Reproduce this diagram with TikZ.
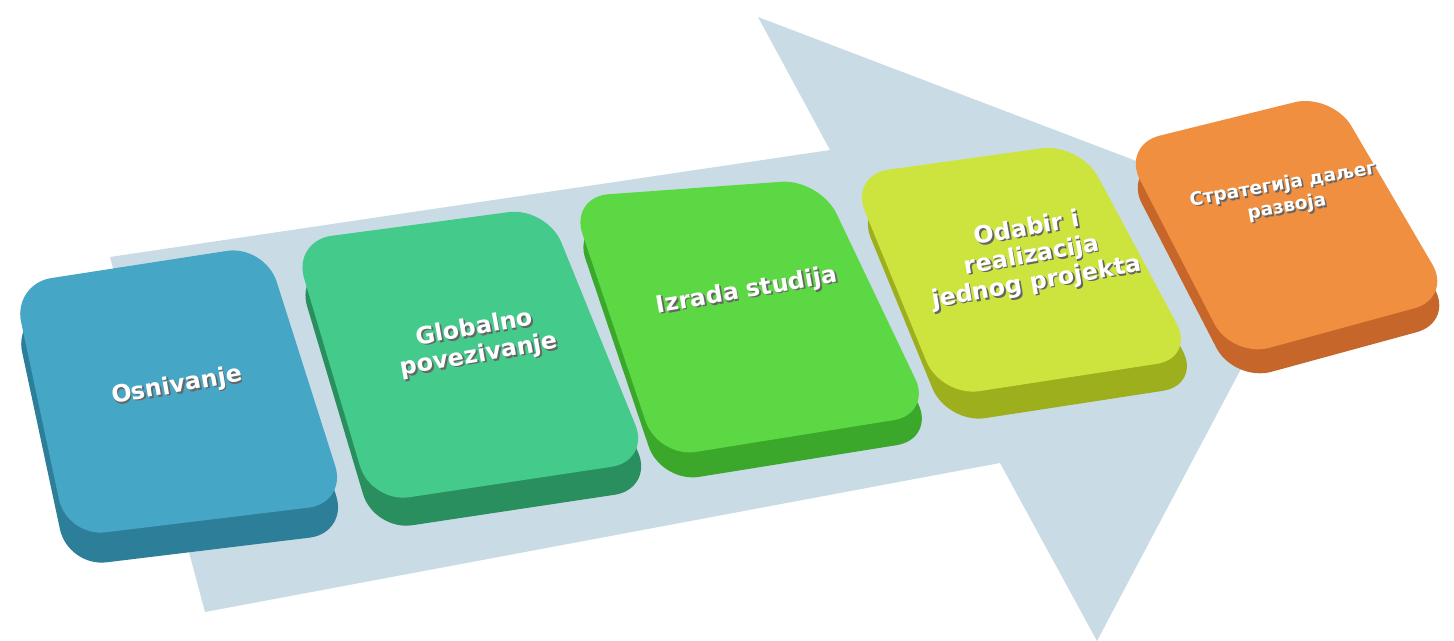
\documentclass[tikz,border=0pt]{standalone}
\usepackage{fontspec}
\setmainfont{DejaVu Sans}
\definecolor{arrowgray}{HTML}{C9DCE5}
\definecolor{blueface}{HTML}{45A6C6}
\definecolor{blueside}{HTML}{2C7E99}
\definecolor{tealface}{HTML}{44CB8B}
\definecolor{tealside}{HTML}{2A8F5E}
\definecolor{greenface}{HTML}{5BD843}
\definecolor{greenside}{HTML}{3BA82B}
\definecolor{limeface}{HTML}{CEE43E}
\definecolor{limeside}{HTML}{9EAF1E}
\definecolor{orangeface}{HTML}{EF8F3F}
\definecolor{orangeside}{HTML}{C7662A}
\newcommand\embossed[1]{\leavevmode\rlap{\kern0.8pt\raisebox{-1pt}{\color{black!60}#1}}#1}
\tikzset{
	keytext/.style={font=\bfseries\fontsize{13.5}{15.5}\selectfont,align=center,rotate=10,inner sep=0pt,text=white},
	keytextsmall/.style={keytext,font=\bfseries\fontsize{10.5}{13}\selectfont},
	keybox/.style={rounded corners=22pt}
}
\begin{document}
\begin{tikzpicture}[x=0.02cm,y=-0.02cm]

\def\ARROWCOLOR{arrowgray}
	\useasboundingbox (0,0) rectangle (1454,641);
	% big arrow behind the keys
	\fill[\ARROWCOLOR] (110,257) -- (830,150) -- (758,17) -- (1315,229) -- (1097,641) -- (1000,463) -- (205,612) -- cycle;

	% keys: side first, then top face
	\fill[keybox,blueside] (14,314) -- (266,275) -- (348,533) -- (68,567) -- cycle;
	\fill[keybox,blueface] (13,284) -- (265,245) -- (347,503) -- (67,537) -- cycle;

	\fill[keybox,tealside] (296,269) -- (550,235) -- (653,489) -- (374,531) -- cycle;
	\fill[keybox,tealface] (293,241) -- (547,207) -- (650,461) -- (371,503) -- cycle;

	\fill[keybox,greenside] (573,222) -- (823,204) -- (935,439) -- (661,483) -- cycle;
	\fill[keybox,greenface] (570,197) -- (820,179) -- (932,414) -- (658,458) -- cycle;

	\fill[keybox,limeside] (856,202) -- (1086,170) -- (1201,385) -- (947,424) -- cycle;
	\fill[keybox,limeface] (850,175) -- (1080,143) -- (1195,358) -- (941,397) -- cycle;

	\fill[keybox,orangeside] (1124,169) -- (1334,117) -- (1454,322) -- (1234,382) -- cycle;
	\fill[keybox,orangeface] (1122,145) -- (1332,93) -- (1452,298) -- (1232,358) -- cycle;

	% labels
	\node[keytext] (osnivanje) at (177,387) {\embossed{Osnivanje}};
	\node[keytext] (globalno) at (477,343) {\embossed{Globalno}\\\embossed{povezivanje}};
	\node[keytext] (izrada) at (747,292) {\embossed{Izrada studija}};
	\node[keytext] (odabir) at (1032,257) {\embossed{Odabir i}\\\embossed{realizacija}\\\embossed{jednog projekta}};
	\node[keytextsmall] (strategija) at (1285,197) {\embossed{Стратегија даљег}\\\embossed{развоја}};

\end{tikzpicture}
\end{document}
